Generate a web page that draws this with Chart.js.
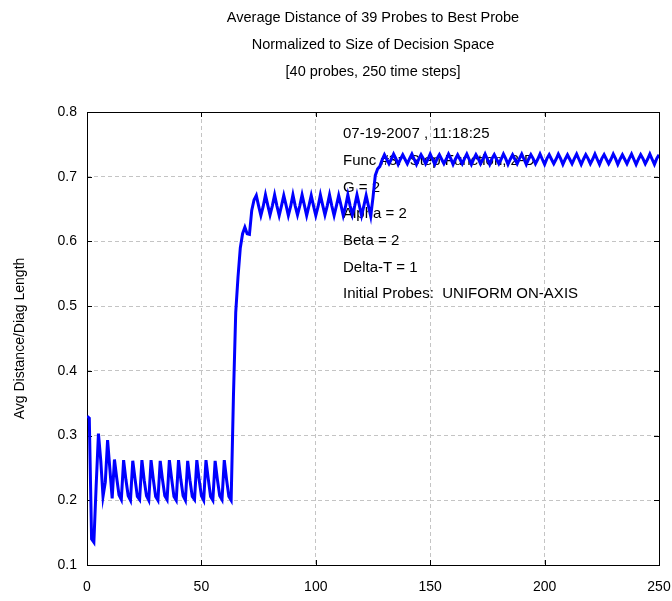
<!DOCTYPE html>
<html>
<head>
<meta charset="utf-8">
<script src="https://cdn.jsdelivr.net/npm/chart.js@4"></script>
<style>
  html, body { margin: 0; padding: 0; background: #fff; }
  #wrap { width: 672px; height: 601px; }
</style>
</head>
<body>
<div id="wrap"><canvas id="c" width="672" height="601"></canvas></div>
<script>
// ---- data ----
const titleLines = [
  "Average Distance of 39 Probes to Best Probe",
  "Normalized to Size of Decision Space",
  "[40 probes, 250 time steps]"
];
const yAxisTitle = "Avg Distance/Diag Length";
const infoLines = [
  "07-19-2007 , 11:18:25",
  "Func #3:  Step Function, 2-D",
  "G = 2",
  "Alpha = 2",
  "Beta = 2",
  "Delta-T = 1",
  "Initial Probes:  UNIFORM ON-AXIS"
];
const xTicks = [0, 50, 100, 150, 200, 250];
const yTicks = [0.1, 0.2, 0.3, 0.4, 0.5, 0.6, 0.7, 0.8];
// average distance per time step, steps 0..250
const avgDistance = [
  0.330, 0.327, 0.140, 0.135, 0.222, 0.303, 0.262, 0.206, 0.228, 0.293,
  0.248, 0.203, 0.263, 0.234, 0.208, 0.201, 0.262, 0.232, 0.207, 0.200,
  0.261, 0.233, 0.206, 0.201, 0.262, 0.231, 0.207, 0.200, 0.262, 0.232,
  0.206, 0.200, 0.261, 0.232, 0.207, 0.201, 0.262, 0.233, 0.206, 0.200,
  0.262, 0.232, 0.207, 0.200, 0.261, 0.231, 0.206, 0.201, 0.262, 0.232,
  0.207, 0.200, 0.262, 0.233, 0.206, 0.200, 0.261, 0.232, 0.207, 0.201,
  0.262, 0.232, 0.206, 0.200, 0.360, 0.490, 0.545, 0.590, 0.612, 0.622,
  0.612, 0.611, 0.648, 0.664, 0.671, 0.655, 0.640, 0.654, 0.672, 0.656,
  0.641, 0.655, 0.672, 0.655, 0.640, 0.655, 0.671, 0.656, 0.640, 0.654,
  0.672, 0.655, 0.641, 0.655, 0.672, 0.656, 0.640, 0.655, 0.671, 0.655,
  0.640, 0.654, 0.672, 0.656, 0.641, 0.655, 0.672, 0.655, 0.640, 0.655,
  0.671, 0.656, 0.640, 0.654, 0.672, 0.655, 0.641, 0.655, 0.672, 0.656,
  0.640, 0.655, 0.671, 0.655, 0.639, 0.668, 0.702, 0.712, 0.716, 0.726,
  0.734, 0.727, 0.720, 0.727, 0.735, 0.728, 0.719, 0.727, 0.734, 0.727,
  0.720, 0.728, 0.735, 0.727, 0.719, 0.727, 0.734, 0.728, 0.720, 0.727,
  0.735, 0.727, 0.719, 0.728, 0.734, 0.727, 0.720, 0.727, 0.735, 0.728,
  0.719, 0.727, 0.734, 0.727, 0.720, 0.728, 0.735, 0.727, 0.719, 0.727,
  0.734, 0.728, 0.720, 0.727, 0.735, 0.727, 0.719, 0.728, 0.734, 0.727,
  0.720, 0.727, 0.735, 0.728, 0.719, 0.727, 0.734, 0.727, 0.720, 0.728,
  0.735, 0.727, 0.719, 0.727, 0.734, 0.728, 0.720, 0.727, 0.735, 0.727,
  0.719, 0.728, 0.734, 0.727, 0.720, 0.727, 0.735, 0.728, 0.719, 0.727,
  0.734, 0.727, 0.720, 0.728, 0.735, 0.727, 0.719, 0.727, 0.734, 0.728,
  0.720, 0.727, 0.735, 0.727, 0.719, 0.728, 0.734, 0.727, 0.720, 0.727,
  0.735, 0.728, 0.719, 0.727, 0.734, 0.727, 0.720, 0.728, 0.735, 0.727,
  0.719, 0.727, 0.734, 0.728, 0.720, 0.727, 0.735, 0.727, 0.719, 0.728,
  0.734
];

const FONT = '"Liberation Sans", Arial, Helvetica, sans-serif';

const points = avgDistance.map((v, i) => ({ x: i, y: v }));

const decor = {
  id: 'decor',
  beforeDatasetsDraw(chart) {
    const { ctx, chartArea: a, scales } = chart;
    const xs = scales.x, ys = scales.y;
    ctx.save();
    ctx.strokeStyle = '#000';
    ctx.lineWidth = 1;
    ctx.beginPath();
    xTicks.forEach(t => {
      const px = Math.round(xs.getPixelForValue(t)) + 0.5;
      ctx.moveTo(px, a.bottom); ctx.lineTo(px, a.bottom - 5);
      ctx.moveTo(px, a.top); ctx.lineTo(px, a.top + 5);
    });
    yTicks.forEach(t => {
      const py = Math.round(ys.getPixelForValue(t)) + 0.5;
      ctx.moveTo(a.left, py); ctx.lineTo(a.left + 5, py);
      ctx.moveTo(a.right, py); ctx.lineTo(a.right - 5, py);
    });
    ctx.stroke();
    ctx.strokeRect(Math.round(a.left) + 0.5, Math.round(a.top) + 0.5,
                   Math.round(a.right - a.left), Math.round(a.bottom - a.top));
    ctx.fillStyle = '#000';
    ctx.font = '15px ' + FONT;
    ctx.textAlign = 'left';
    ctx.textBaseline = 'middle';
    infoLines.forEach((s, i) => ctx.fillText(s, 343, 134 + i * 26.7));
    ctx.restore();
  },
  afterDraw(chart) {
    const { ctx, chartArea: a } = chart;
    ctx.save();
    ctx.fillStyle = '#000';
    ctx.font = '14.5px ' + FONT;
    ctx.textAlign = 'center';
    ctx.textBaseline = 'middle';
    const cx = (a.left + a.right) / 2;
    titleLines.forEach((s, i) => ctx.fillText(s, cx, 18 + i * 27));
    ctx.translate(20, (a.top + a.bottom) / 2);
    ctx.rotate(-Math.PI / 2);
    ctx.font = '14px ' + FONT;
    ctx.fillText(yAxisTitle, 0, 0);
    ctx.restore();
  }
};

new Chart(document.getElementById('c'), {
  type: 'line',
  data: {
    datasets: [{
      data: points,
      borderColor: '#0000ff',
      borderWidth: 3,
      pointRadius: 0,
      tension: 0,
      fill: false
    }]
  },
  options: {
    responsive: false,
    animation: false,
    layout: { padding: { top: 112, right: 13, left: 0, bottom: 0 } },
    plugins: { legend: { display: false }, title: { display: false }, tooltip: { enabled: false } },
    scales: {
      x: {
        type: 'linear', min: 0, max: 250,
        afterBuildTicks: s => { s.ticks = xTicks.map(v => ({ value: v })); },
        afterFit: s => { s.height = 36; s.paddingLeft = 0; s.paddingRight = 0; },
        ticks: { color: '#000', font: { family: FONT, size: 14 }, padding: 14, maxRotation: 0 },
        grid: { color: '#c4c4c4', lineWidth: 1, drawTicks: false },
        border: { display: false, dash: [4, 3] }
      },
      y: {
        min: 0.1, max: 0.8,
        afterBuildTicks: s => { s.ticks = yTicks.map(v => ({ value: v })); },
        afterFit: s => { s.width = 87; s.paddingTop = 0; s.paddingBottom = 0; },
        ticks: { color: '#000', font: { family: FONT, size: 14 }, padding: 10,
                 callback: v => Number(v).toFixed(1) },
        grid: { color: '#c4c4c4', lineWidth: 1, drawTicks: false },
        border: { display: false, dash: [4, 3] }
      }
    }
  },
  plugins: [decor]
});
</script>
</body>
</html>
